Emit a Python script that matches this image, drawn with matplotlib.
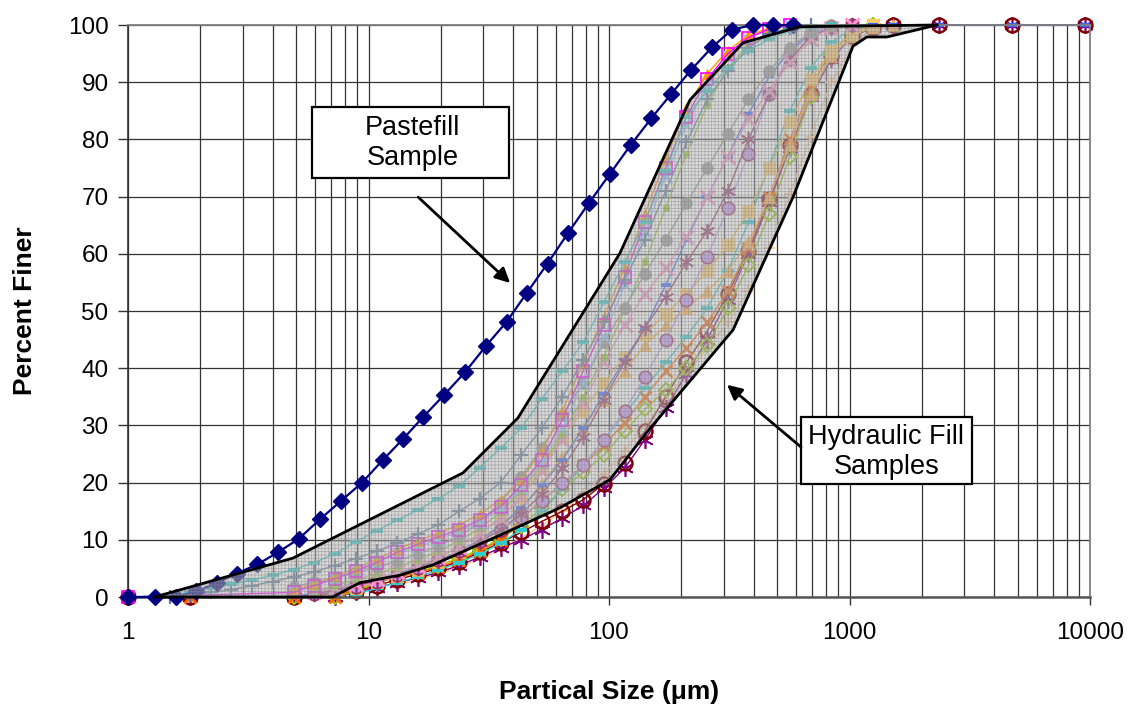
import numpy as np
import matplotlib
matplotlib.use("Agg")
import matplotlib.pyplot as plt
from matplotlib.patches import Polygon, Rectangle
from matplotlib.ticker import LogLocator, NullFormatter

plt.rcParams['font.family'] = ['Liberation Sans', 'DejaVu Sans']
plt.rcParams['hatch.linewidth'] = 0.5

N = np.nan

# ---------------- data ----------------
paste_size = [1.0, 1.29, 1.58, 1.92, 2.34, 2.83, 3.45, 4.2, 5.14, 6.29, 7.69, 9.4, 11.5, 13.9,
              16.9, 20.6, 25.2, 30.8, 37.5, 45.6, 55.5, 67.5, 82.6, 101, 123, 150, 181, 219,
              268, 325, 397, 481, 582]
paste_pct = [0, 0, 0, 1.0, 2.4, 4.1, 5.7, 7.8, 10.2, 13.6, 16.8, 20.0, 24.0, 27.6, 31.5, 35.3,
             39.3, 43.9, 48.1, 53.2, 58.3, 63.6, 68.9, 74.0, 79.0, 83.7, 87.9, 92.1, 96.1, 99.2,
             100, 100, 100]

env_upper_size = [1.29, 4.85, 24.7, 41.8, 111, 217, 361, 623, 2310]
env_upper_pct = [0, 6.8, 21.7, 31.3, 60.1, 86.9, 96.9, 99.7, 100]
env_lower_size = [1.29, 7.1, 9.2, 13.5, 18.5, 35.2, 62.6, 101, 143, 328, 582, 1034, 1180, 1430, 2310]
env_lower_pct = [0, 0, 2.5, 3.8, 5.6, 10.8, 15.6, 20.5, 28.7, 46.7, 69.9, 96.3, 97.9, 97.9, 100]

hf_size = [1.0, 1.22, 1.49, 1.81, 2.21, 2.69, 3.28, 4.0, 4.88, 5.95, 7.25, 8.84, 10.8, 13.1,
           16.0, 19.5, 23.8, 29.0, 35.4, 43.1, 52.5, 64.0, 78.1, 95.2, 116, 141, 172, 210, 256,
           312, 380, 464, 565, 689, 840, 1024, 1248, 1522, 2360, 4750, 9500]

hf_a = [0, N, 0.3, 0.8, 1.5, 2.2, 3.0, 3.8, 4.8, 6.0, 7.6, 9.6, 11.6, 13.4, 15.2, 17.2, 19.4, 22.6,
        26.0, 29.5, 34.6, 39.5, 44.5, 51.5, 58.5, 65.5, 74.5, 84.0, 88.5, 92.5, 95.5, 97.5, 99.0,
        99.7, 100, N, N, N, N, N, N]
hf_b = [0, N, 0, 0.3, 0.8, 1.3, 2.0, 2.7, 3.5, 4.4, 5.5, 6.7, 8.0, 9.4, 11.0, 12.6, 15.0, 17.2,
        20.0, 24.8, 29.5, 35.0, 41.5, 48.0, 55.5, 62.5, 71.0, 79.5, 87.0, 92.0, 96.0, 98.5, 99.5,
        100, N, N, N, N, N, N, N]
hf_c = [0, N, N, N, N, N, N, N, 0.8, 2.0, 3.2, 4.5, 6.0, 7.8, 9.2, 10.5, 11.8, 13.5, 15.8, 19.5,
        24.0, 31.0, 39.5, 47.5, 56.0, 65.5, 75.0, 84.0, 90.5, 95.0, 97.8, 99.3, 100, N, N, N, N,
        N, N, N, N]
hf_d = [N, N, N, N, N, N, N, N, 1.2, 2.3, 3.6, 5.0, 6.6, 8.3, 9.8, 11.2, 12.6, 14.5, 17.0, 20.5,
        25.5, 32.5, 41.0, 49.0, 57.5, 67.0, 76.5, 85.5, 91.5, 95.5, 98.2, 99.5, 100, N, N, N, N,
        N, N, N, N]
hf_e = [N, N, N, N, N, N, N, N, 1.0, 2.2, 3.4, 4.7, 6.2, 7.5, 8.8, 10.0, 11.5, 13.0, 15.5, 19.0,
        23.5, 29.5, 37.5, 45.5, 54.5, 64.0, 73.5, 82.5, 89.5, 94.5, 97.5, 99.3, 100, N, N, N, N,
        N, N, N, N]
hf_f = [N, N, N, N, N, N, N, N, 1.8, 2.6, 3.4, 4.3, 5.2, 6.3, 7.5, 8.9, 10.6, 13.0, 16.5, 21.0,
        26.0, 31.8, 37.5, 44.5, 50.5, 56.5, 62.5, 68.8, 75.0, 81.0, 87.0, 92.0, 96.0, 98.8, 100,
        N, N, N, N, N, N]
hf_g = [N, N, N, N, N, N, N, N, N, 1.0, 2.0, 3.0, 4.0, 5.2, 6.5, 8.0, 9.8, 12.0, 14.8, 18.5,
        23.0, 28.5, 35.0, 42.0, 50.0, 58.5, 68.0, 77.5, 86.0, 92.5, 96.5, 98.8, 100, N, N, N, N,
        N, N, N, N]
hf_h = [N, N, N, N, N, N, N, N, N, 0.8, 1.5, 2.3, 3.2, 4.3, 5.5, 7.0, 8.8, 11.0, 13.8, 17.5,
        22.0, 27.5, 34.0, 41.0, 47.5, 53.0, 57.5, 63.0, 70.0, 77.0, 83.5, 88.5, 93.5, 97.5, 99.5,
        100, N, N, N, N, N]
hf_i = [N, N, N, N, N, N, N, N, N, 0.5, 1.2, 2.0, 2.8, 3.8, 5.0, 6.3, 7.8, 9.6, 11.8, 14.5,
        18.0, 22.5, 28.0, 34.5, 41.0, 47.0, 52.5, 58.5, 64.0, 71.0, 80.0, 88.0, 94.0, 98.0, 99.5,
        100, N, N, N, N, N]
hf_j = [N, N, N, N, N, N, N, N, N, 0.5, 1.0, 1.8, 2.6, 3.8, 5.0, 6.5, 8.0, 9.8, 11.8, 14.0,
        16.8, 20.0, 23.0, 27.5, 32.5, 38.5, 45.0, 52.0, 59.5, 68.0, 77.5, 88.0, 95.0, 98.5, 99.7,
        100, N, N, N, N, N]
hf_k = [0, N, N, N, N, N, N, N, 0, 0.8, 1.5, 2.3, 3.0, 4.0, 5.2, 6.5, 8.0, 10.0, 12.5, 15.5,
        19.5, 24.0, 29.5, 35.5, 41.5, 47.0, 54.5, 62.5, 70.0, 77.0, 84.5, 91.0, 95.5, 98.5, 99.5,
        100, 100, 100, 100, 100, 100]
hf_l = [N, N, N, N, N, N, N, N, N, N, 1.0, 2.0, 3.0, 4.0, 5.2, 6.8, 8.8, 11.0, 14.0, 17.5,
        22.5, 28.0, 32.5, 37.5, 42.0, 46.0, 49.5, 53.0, 57.0, 61.5, 67.5, 75.0, 83.0, 90.5, 95.5,
        98.5, 100, N, N, N, N]
hf_m = [N, N, N, N, N, N, N, N, N, N, 0.8, 1.6, 2.6, 3.6, 4.8, 6.2, 7.8, 9.8, 12.3, 15.5,
        19.8, 24.5, 29.5, 34.5, 39.5, 44.0, 47.5, 50.5, 53.5, 57.0, 62.0, 70.0, 79.0, 88.0, 94.5,
        98.0, 99.7, 100, N, N, N]
hf_n = [N, N, N, N, N, N, N, N, N, N, N, 0.5, 1.5, 2.5, 3.5, 4.7, 6.0, 7.5, 9.4, 11.8, 15.0,
        18.8, 23.0, 27.5, 32.0, 36.5, 41.0, 45.5, 50.5, 57.0, 65.5, 75.5, 85.0, 92.5, 97.0, 99.3,
        100, N, N, N, N]
hf_o = [N, N, N, 0, N, N, N, N, 0, N, 0, 1.5, 2.5, 3.5, 4.2, 5.2, 6.5, 8.0, 10.0, 13.5, 17.0,
        19.5, 23.0, 26.5, 30.5, 35.0, 39.5, 43.5, 48.0, 53.5, 61.0, 70.0, 80.0, 89.0, 95.5, 98.5,
        100, N, N, N, N]
hf_p = [N, N, N, N, N, N, N, N, 0, N, 0, 1.0, 2.5, 3.5, 4.3, 5.5, 6.8, 8.3, 10.2, 12.5, 15.5,
        18.8, 21.8, 24.8, 29.0, 32.8, 36.2, 40.0, 44.0, 50.5, 58.0, 67.0, 77.0, 87.5, 95.0, 98.8,
        100, N, N, N, N]
hf_q = [0, N, N, 0, N, N, N, N, 0, N, N, 1.0, 2.0, 3.0, 4.0, 5.0, 6.2, 7.8, 9.5, 11.3, 13.2,
        15.0, 17.0, 19.8, 23.5, 29.0, 35.0, 41.0, 46.5, 53.0, 60.5, 69.5, 79.0, 88.0, 94.5, 98.0,
        99.5, 100, 100, 100, 100]
hf_r = [0, N, N, 0, N, N, N, N, 0, N, 0, 0.8, 1.6, 2.5, 3.3, 4.3, 5.5, 7.0, 8.6, 10.0, 11.8,
        13.8, 16.0, 19.0, 22.5, 27.5, 33.0, 39.0, 45.0, 52.0, 60.0, 69.0, 78.5, 87.5, 94.0, 98.0,
        99.5, 100, 100, 100, 100]
hf_s = [N, N, N, N, N, N, N, N, N, N, N, N, N, 2.0, 3.0, 4.0, 5.2, 6.6, 8.3, 10.3, 12.5, 15.0,
        18.0, 21.5, 25.5, 30.0, 34.5, 39.0, 43.5, 48.0, 53.5, 61.0, 70.5, 80.5, 90.0, 96.5, 99.3,
        100, N, N, N]

x_ticks = [1, 10, 100, 1000, 10000]
x_tick_labels = ['1', '10', '100', '1000', '10000']
y_ticks = [0, 10, 20, 30, 40, 50, 60, 70, 80, 90, 100]

# ---------------- figure ----------------
W, H = 1136, 707
fig = plt.figure(figsize=(W / 100, H / 100), dpi=100)
ax = fig.add_axes([128 / W, 1 - 597 / H, 962 / W, 572 / H])
ax.set_xscale('log')
ax.set_xlim(1, 10000)
ax.set_ylim(0, 100)

AST = (6, 2, 0)
styles = [
    (hf_s, dict(color='#FFCC99', marker='+', ms=8, mew=1.5, mfc='#FFCC99', mec='#FFCC99')),
    (hf_r, dict(color='#800080', marker=AST, ms=12, mew=1.2, mfc='#800080', mec='#800080')),
    (hf_q, dict(color='#800000', marker='o', ms=10, mew=1.8, mfc='none', mec='#800000')),
    (hf_p, dict(color='#99CC00', marker='D', ms=7, mew=1.5, mfc='none', mec='#99CC00')),
    (hf_o, dict(color='#FF6600', marker='x', ms=9, mew=2, mfc='#FF6600', mec='#FF6600')),
    (hf_n, dict(color='#33CCCC', marker='_', ms=8, mew=3, mfc='#33CCCC', mec='#33CCCC')),
    (hf_m, dict(color='#FFB347', marker='^', ms=9, mew=0.5, mfc='#FFB347', mec='#FFB347')),
    (hf_l, dict(color='#F4C430', marker='s', ms=8, mew=0.5, mfc='#FFCC66', mec='#FFCC66')),
    (hf_k, dict(color='#3366FF', marker='_', ms=7, mew=3, mfc='#3366FF', mec='#3366FF')),
    (hf_j, dict(color='#CC99FF', marker='o', ms=9, mew=1.2, mfc='#CC99FF', mec='#993366')),
    (hf_i, dict(color='#993366', marker=AST, ms=11, mew=1.2, mfc='#993366', mec='#993366')),
    (hf_h, dict(color='#FF99CC', marker='x', ms=10, mew=2.2, mfc='#FF99CC', mec='#FF99CC')),
    (hf_g, dict(color='#99CC33', marker='s', ms=5, mew=0.5, mfc='#99CC33', mec='#99CC33')),
    (hf_f, dict(color='#999999', marker='o', ms=8.5, mew=0.5, mfc='#999999', mec='#999999')),
    (hf_e, dict(color='#99CCFF', marker='x', ms=9, mew=2, mfc='#99CCFF', mec='#99CCFF')),
    (hf_d, dict(color='#FF9900', marker='^', ms=7, mew=0.5, mfc='#FF9900', mec='#FF9900')),
    (hf_c, dict(color='#FF00FF', marker='s', ms=9, mew=1.2, mfc='none', mec='#FF00FF')),
    (hf_b, dict(color='#5F7F9F', marker='+', ms=10, mew=1.6, mfc='#5F7F9F', mec='#5F7F9F')),
    (hf_a, dict(color='#33CCCC', marker='_', ms=9, mew=3, mfc='#33CCCC', mec='#33CCCC')),
]
xs = np.array(hf_size, dtype=float)
for vals, st in styles:
    ys = np.array(vals, dtype=float)
    m = ~np.isnan(ys)
    ax.plot(xs[m], ys[m], lw=1.0, clip_on=False, zorder=2, **st)

ax.plot(paste_size, paste_pct, color='#000080', lw=1.6, marker='D', ms=8,
        mfc='#000080', mec='#000080', clip_on=False, zorder=3)

verts = list(zip(env_upper_size, env_upper_pct)) + list(zip(env_lower_size[::-1], env_lower_pct[::-1]))
ax.add_patch(Polygon(verts, closed=True, facecolor='#b4b4b4', edgecolor='none', alpha=0.5, zorder=4))
ax.add_patch(Polygon(verts, closed=True, fill=False, hatch='+++++', edgecolor='#8a8a8a', lw=0,
                     alpha=0.6, zorder=4.1))
ax.plot(env_upper_size, env_upper_pct, color='black', lw=2, zorder=5, clip_on=False)
ax.plot(env_lower_size, env_lower_pct, color='black', lw=2, zorder=5, clip_on=False)

# axes styling
ax.set_xticks(x_ticks)
ax.set_xticklabels(x_tick_labels)
ax.xaxis.set_minor_locator(LogLocator(base=10, subs=np.arange(2, 10)))
ax.xaxis.set_minor_formatter(NullFormatter())
ax.set_yticks(y_ticks)
ax.tick_params(axis='x', which='major', direction='out', length=6, width=1, pad=12,
               labelsize=17.5, color='#333333')
ax.tick_params(axis='x', which='minor', length=0)
ax.tick_params(axis='y', which='major', direction='out', length=7, width=1, pad=7,
               labelsize=17.5, color='#333333')
ax.grid(which='major', axis='both', color='#333333', lw=0.9, zorder=0)
ax.grid(which='minor', axis='x', color='#333333', lw=0.9, zorder=0)
ax.set_axisbelow(True)
for side in ['top', 'right']:
    ax.spines[side].set_color('#808080')
    ax.spines[side].set_linewidth(1.3)
ax.spines['left'].set_color('#333333')
ax.spines['left'].set_linewidth(1.2)
ax.spines['bottom'].set_color('#555555')
ax.spines['bottom'].set_linewidth(1.8)

ax.set_xlabel('Partical Size (\u03bcm)', fontsize=19, fontweight='bold')
ax.xaxis.set_label_coords(0.5, -0.145)
ax.set_ylabel('Percent Finer', fontsize=19, fontweight='bold')
ax.yaxis.set_label_coords(-0.095, 0.5)

# annotation boxes
ax.add_patch(Rectangle((5.82, 73.25), 38.4 - 5.82, 85.66 - 73.25, facecolor='white',
                       edgecolor='black', lw=1.6, zorder=10, clip_on=False))
ax.text(15.3, 79.3, 'Pastefill\nSample', ha='center', va='center', fontsize=19.5,
        linespacing=1.2, zorder=11)
ax.annotate('', xy=(38.8, 54.9), xytext=(16.1, 69.9),
            arrowprops=dict(arrowstyle='-|>', lw=2, color='black', mutation_scale=22,
                            shrinkA=0, shrinkB=0), zorder=10)

ax.add_patch(Rectangle((629, 19.76), 3231 - 629, 31.47 - 19.76, facecolor='white',
                       edgecolor='black', lw=1.6, zorder=10, clip_on=False))
ax.text(1425, 25.4, 'Hydraulic Fill\nSamples', ha='center', va='center', fontsize=19.5,
        linespacing=1.2, zorder=11)
ax.annotate('', xy=(309.6, 37.1), xytext=(629, 26.2),
            arrowprops=dict(arrowstyle='-|>', lw=2, color='black', mutation_scale=22,
                            shrinkA=0, shrinkB=0), zorder=10)

fig.savefig('out.png', dpi=100)
